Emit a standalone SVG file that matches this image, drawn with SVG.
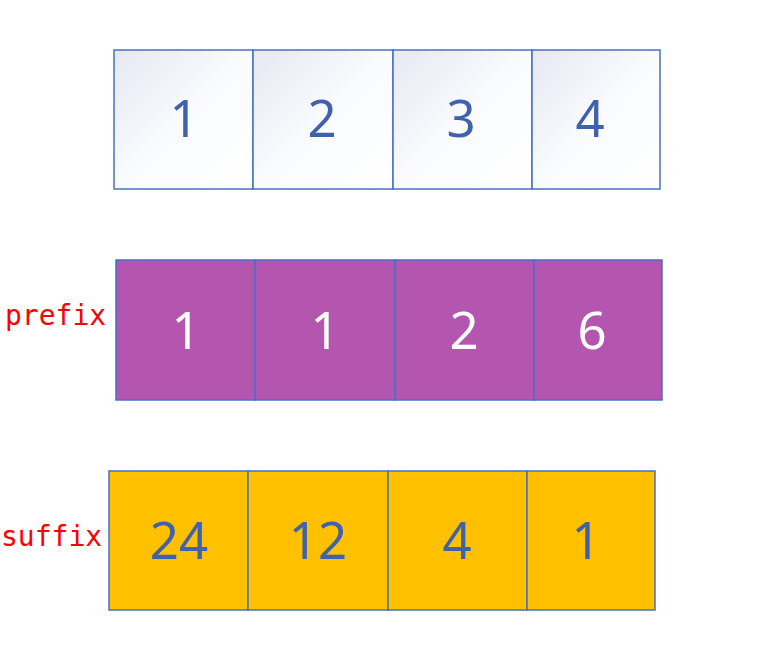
<svg xmlns="http://www.w3.org/2000/svg" width="762" height="646" viewBox="0 0 762 646">
<defs>
<linearGradient id="g" x1="0" y1="0" x2="1" y2="1">
<stop offset="0" stop-color="#E6E8F3"/>
<stop offset="0.5" stop-color="#FAFBFD"/>
<stop offset="1" stop-color="#FFFFFF"/>
</linearGradient>
</defs>
<style>
.c{stroke:#4472C4;stroke-width:1.5}
.w{fill:url(#g)}
.p{fill:#B455B0}
.y{fill:#FFC000}
.n{font-family:"Noto Sans","Open Sans",sans-serif;font-size:51px;text-anchor:middle}
.b{fill:#3E62AD}
.f{fill:#FFFFFF}
.l{font-family:"DejaVu Sans Mono","Liberation Mono",monospace;font-size:28px;fill:#FF0000}
</style>
<g id="row1">
<g id="a1"><rect class="c w" x="114" y="50" width="139" height="139"/><text class="n b" x="184" y="137">1</text></g>
<g id="a2"><rect class="c w" x="253" y="50" width="140" height="139"/><text class="n b" x="322" y="137">2</text></g>
<g id="a3"><rect class="c w" x="393" y="50" width="139" height="139"/><text class="n b" x="461" y="137">3</text></g>
<g id="a4"><rect class="c w" x="532" y="50" width="128" height="139"/><text class="n b" x="590" y="137">4</text></g>
</g>
<g id="row2">
<g id="p1"><rect class="c p" x="116" y="260" width="139" height="140"/><text class="n f" x="186" y="349">1</text></g>
<g id="p2"><rect class="c p" x="255" y="260" width="140" height="140"/><text class="n f" x="325" y="349">1</text></g>
<g id="p3"><rect class="c p" x="395" y="260" width="139" height="140"/><text class="n f" x="464" y="349">2</text></g>
<g id="p4"><rect class="c p" x="534" y="260" width="128" height="140"/><text class="n f" x="592" y="349">6</text></g>
</g>
<g id="row3">
<g id="s1"><rect class="c y" x="109" y="471" width="139" height="139"/><text class="n b" x="179" y="559">24</text></g>
<g id="s2"><rect class="c y" x="248" y="471" width="140" height="139"/><text class="n b" x="318" y="559">12</text></g>
<g id="s3"><rect class="c y" x="388" y="471" width="139" height="139"/><text class="n b" x="457" y="559">4</text></g>
<g id="s4"><rect class="c y" x="527" y="471" width="128" height="139"/><text class="n b" x="586" y="559">1</text></g>
</g>
<g id="labels">
<text class="l" x="5" y="325">prefix</text>
<text class="l" x="1" y="546">suffix</text>
</g>
<g id="connectors"/>
</svg>
